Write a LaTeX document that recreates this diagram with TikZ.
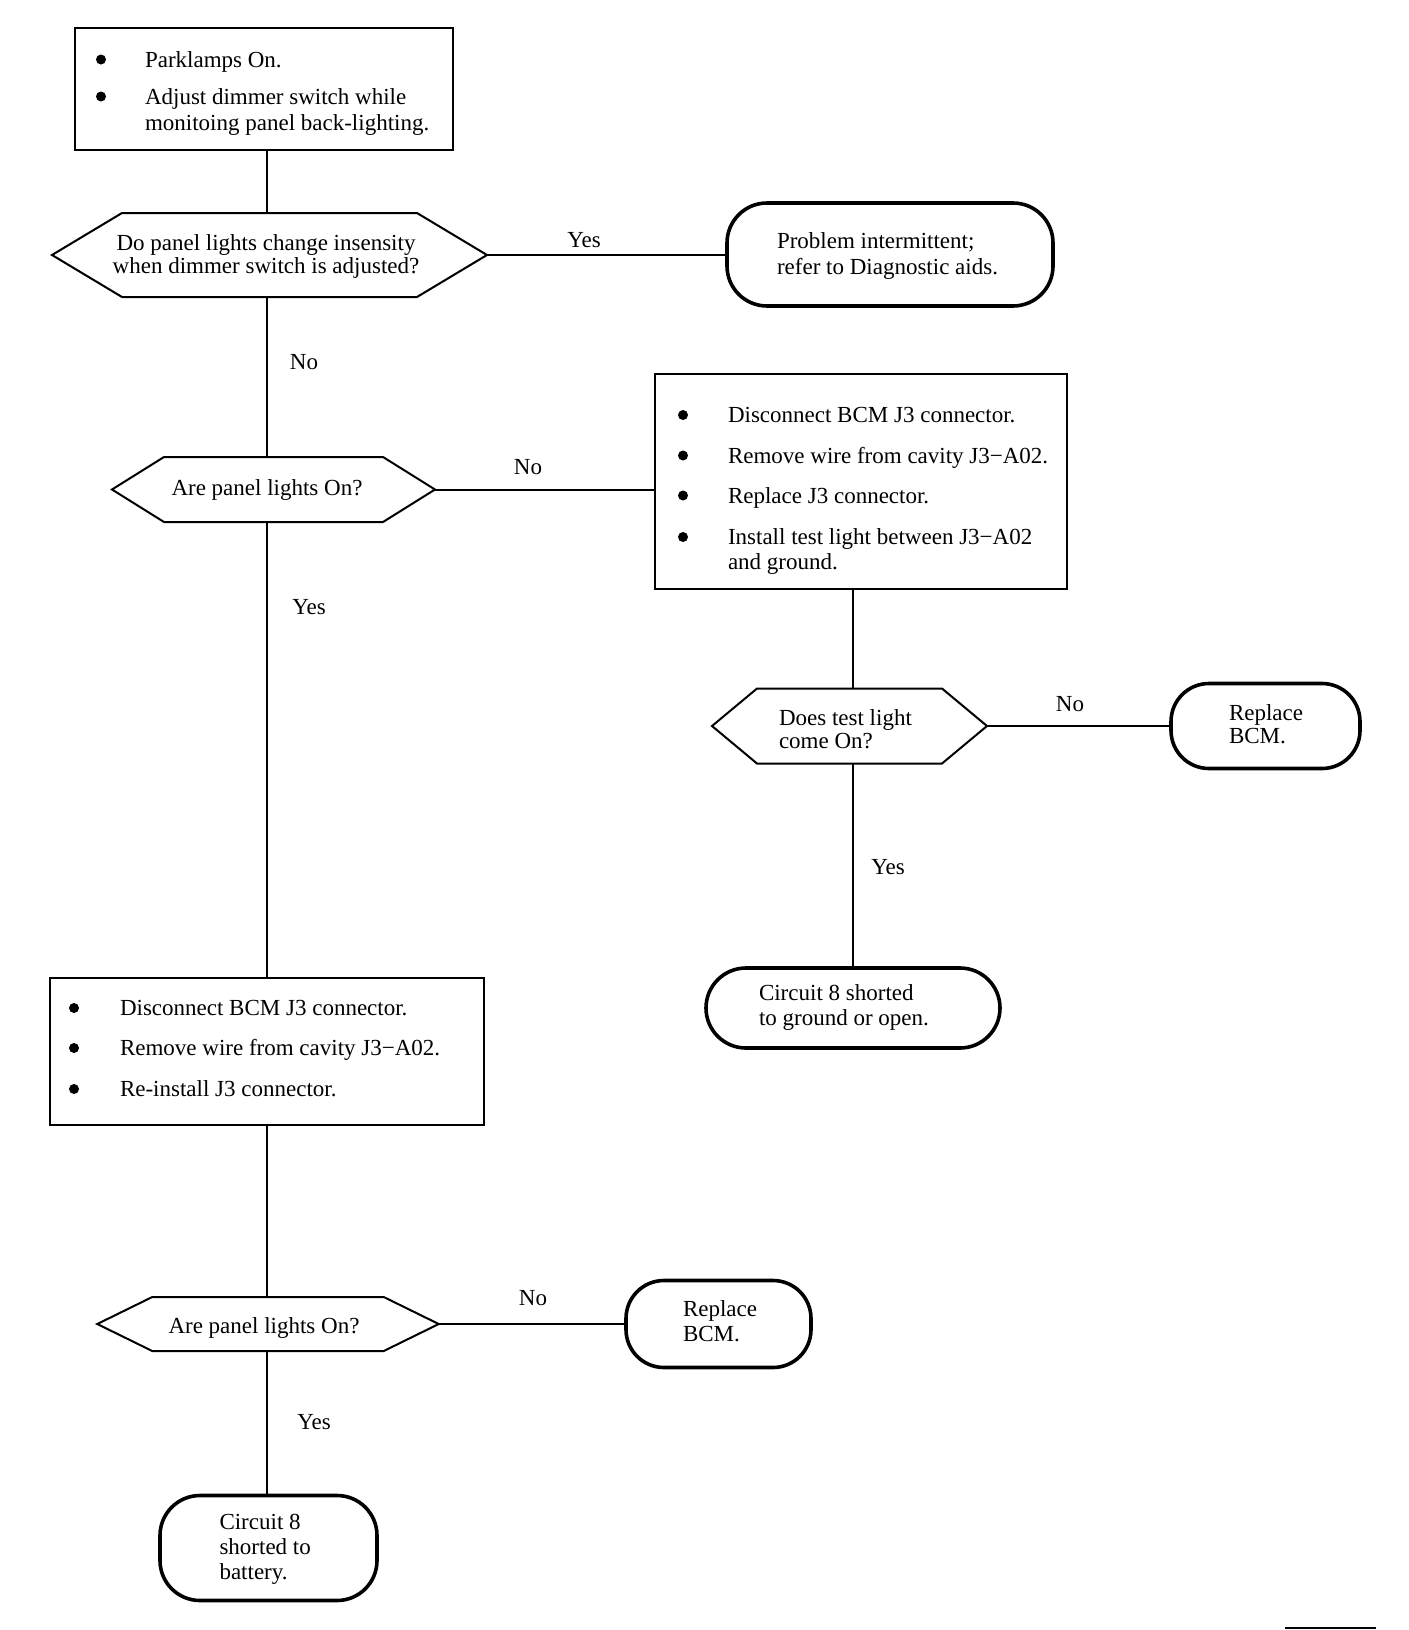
\documentclass[tikz,border=0pt]{standalone}
\usepackage{fontspec}
\setmainfont{Liberation Serif}
\usetikzlibrary{calc}
\newcommand\hexshape[2]{%
  \draw[decline] (#1.west) -- ([xshift=#2]#1.north west) -- ([xshift=-#2]#1.north east)
    -- (#1.east) -- ([xshift=-#2]#1.south east) -- ([xshift=#2]#1.south west) -- cycle;}
\begin{document}
\begin{tikzpicture}[x=1pt,y=-1pt,
  every node/.style={inner sep=0pt, outer sep=0pt},
  procbox/.style={draw, line width=2.6pt},
  term/.style={draw, line width=3.6pt, rounded corners=40pt},
  decision/.style={},
  decline/.style={line width=2pt, line join=miter},
  conn/.style={line width=2pt},
  tx/.style={anchor=base west, font=\fontsize{23}{25}\selectfont},
  ctx/.style={anchor=base, font=\fontsize{23}{25}\selectfont},
  lbl/.style={anchor=base, font=\fontsize{23}{25}\selectfont},
  bul/.style={circle, fill, minimum size=10pt},
]
\fill[white] (0,0) rectangle (1408,1630);
\useasboundingbox (0,0) rectangle (1408,1630);

% ---------- shapes ----------
\node[procbox, minimum width=378pt, minimum height=122pt] (b1) at (264,89) {};
\node[decision, minimum width=435pt, minimum height=84pt] (d1) at (269.5,255) {};
\hexshape{d1}{70pt}
\node[term, minimum width=326pt, minimum height=103pt] (t1) at (890,254.5) {};
\node[decision, minimum width=323pt, minimum height=65pt] (d2) at (273.5,489.5) {};
\hexshape{d2}{52pt}
\node[procbox, minimum width=412pt, minimum height=215pt] (b2) at (861,481.5) {};
\node[decision, minimum width=275pt, minimum height=75pt] (d3) at (849.5,726) {};
\hexshape{d3}{45pt}
\node[term, rounded corners=38pt, minimum width=189pt, minimum height=85pt] (t2) at (1265.5,726) {};
\node[term, minimum width=294pt, minimum height=80pt] (t3) at (853,1008) {};
\node[procbox, minimum width=434pt, minimum height=147pt] (b3) at (267,1051.5) {};
\node[decision, minimum width=341.5pt, minimum height=54pt] (d4) at (268,1324) {};
\hexshape{d4}{55pt}
\node[term, rounded corners=38pt, minimum width=185pt, minimum height=87pt] (t4) at (718.5,1324) {};
\node[term, minimum width=217pt, minimum height=105pt] (t5) at (268.5,1548) {};

% ---------- connectors ----------
\draw[conn] (b1.south -| b3.north) -- (d1.north -| b3.north);
\draw[conn] (d1.south -| b3.north) -- (d2.north -| b3.north);
\draw[conn] (d2.south -| b3.north) -- (b3.north);
\draw[conn] (b3.south) -- (d4.north -| b3.south);
\draw[conn] (d4.south -| b3.south) -- (t5.north -| b3.south);
\draw[conn] (d1.east) -- (d1.east -| t1.west);
\draw[conn] (d2.east) -- (d2.east -| b2.west);
\draw[conn] (b2.south -| t3.north) -- (d3.north -| t3.north);
\draw[conn] (d3.south -| t3.north) -- (t3.north);
\draw[conn] (d3.east) -- (d3.east -| t2.west);
\draw[conn] (d4.east) -- (d4.east -| t4.west);

% ---------- box 1 ----------
\node[bul] (b1p1) at (101,59.5) {};
\node[bul] (b1p2) at (101,96.5) {};
\node[tx] (b1t1) at (145,67) {Parklamps On.};
\node[tx] (b1t2) at (145,104) {Adjust dimmer switch while};
\node[tx] (b1t3) at (145,130) {monitoing panel back-lighting.};

% ---------- decision 1 ----------
\node[ctx] (d1t1) at (266,250) {Do panel lights change insensity};
\node[ctx] (d1t2) at (266,273) {when dimmer switch is adjusted?};
\node[lbl] (l1) at (584,247) {Yes};
\node[tx] (t1a) at (777,248.5) {Problem intermittent;};
\node[tx] (t1b) at (777,274) {refer to Diagnostic aids.};
\node[lbl] (l2) at (304,369) {No};

% ---------- decision 2 ----------
\node[ctx] (d2t) at (267,495.5) {Are panel lights On?};
\node[lbl] (l3) at (528,474) {No};
\node[lbl] (l4) at (309,614) {Yes};

% ---------- box 2 ----------
\node[bul] (b2p1) at (683,415) {};
\node[bul] (b2p2) at (683,455.5) {};
\node[bul] (b2p3) at (683,495.5) {};
\node[bul] (b2p4) at (683,537) {};
\node[tx] (b2t1) at (728,422.5) {Disconnect BCM J3 connector.};
\node[tx] (b2t2) at (728,463) {Remove wire from cavity J3−A02.};
\node[tx] (b2t3) at (728,503) {Replace J3 connector.};
\node[tx] (b2t4) at (728,544.5) {Install test light between J3−A02};
\node[tx] (b2t5) at (728,569) {and ground.};

% ---------- decision 3 ----------
\node[tx] (d3t1) at (779,725.5) {Does test light};
\node[tx] (d3t2) at (779,748.5) {come On?};
\node[lbl] (l5) at (1070,711) {No};
\node[tx] (t2a) at (1229,720) {Replace};
\node[tx] (t2b) at (1229,743) {BCM.};
\node[lbl] (l6) at (888,874) {Yes};
\node[tx] (t3a) at (759,1000) {Circuit 8 shorted};
\node[tx] (t3b) at (759,1025.5) {to ground or open.};

% ---------- box 3 ----------
\node[bul] (b3p1) at (74,1008) {};
\node[bul] (b3p2) at (74,1048) {};
\node[bul] (b3p3) at (74,1089) {};
\node[tx] (b3t1) at (120,1015) {Disconnect BCM J3 connector.};
\node[tx] (b3t2) at (120,1055) {Remove wire from cavity J3−A02.};
\node[tx] (b3t3) at (120,1096) {Re-install J3 connector.};

% ---------- decision 4 ----------
\node[ctx] (d4t) at (264,1333) {Are panel lights On?};
\node[lbl] (l7) at (533,1305) {No};
\node[tx] (t4a) at (683,1316.5) {Replace};
\node[tx] (t4b) at (683,1341.5) {BCM.};
\node[lbl] (l8) at (314,1429.5) {Yes};
\node[tx] (t5a) at (219.5,1529) {Circuit 8};
\node[tx] (t5b) at (219.5,1554.5) {shorted to};
\node[tx] (t5c) at (219.5,1579.5) {battery.};

% ---------- stray rule at bottom right ----------
\coordinate (s1) at (1285,1628);
\coordinate (s2) at (1376,1628);
\draw[line width=1.5pt] (s1) -- (s2);
\end{tikzpicture}
\end{document}
